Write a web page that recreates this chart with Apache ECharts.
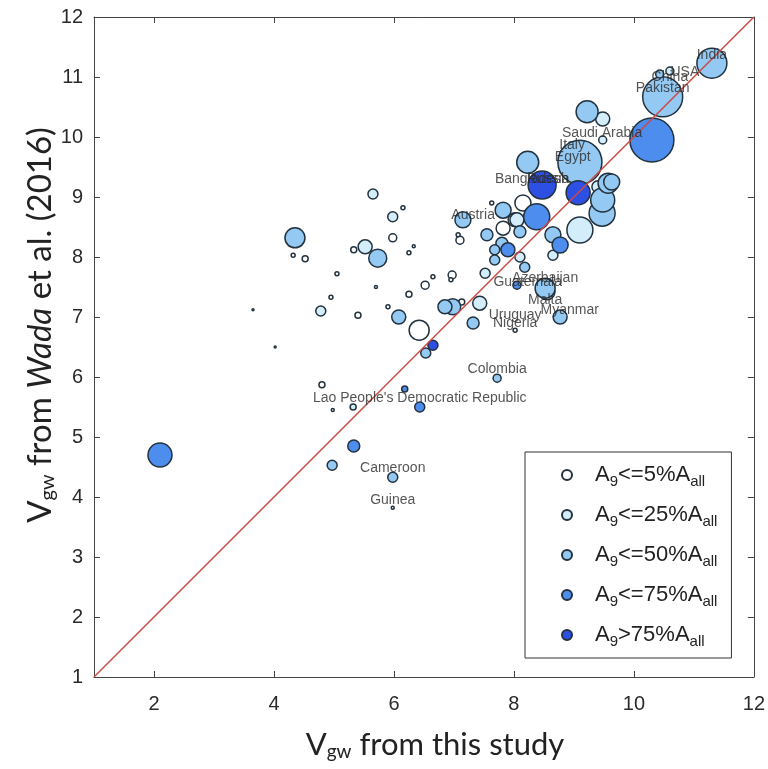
<!DOCTYPE html>
<html><head><meta charset="utf-8">
<script src="https://cdn.jsdelivr.net/npm/echarts@6/dist/echarts.min.js"></script>
<style>html,body{margin:0;padding:0;background:#fff}#c{width:768px;height:769px}</style>
</head><body><div id="c"></div>
<script>
// category 0: A9<=5%, 1: <=25%, 2: <=50%, 3: <=75%, 4: >75%
const categoryNames = ['A9<=5%Aall','A9<=25%Aall','A9<=50%Aall','A9<=75%Aall','A9>75%Aall'];
const categoryRich = ['A{s|9}<=5%A{s|all}','A{s|9}<=25%A{s|all}','A{s|9}<=50%A{s|all}','A{s|9}<=75%A{s|all}','A{s|9}>75%A{s|all}'];
const categoryColors = ['#ffffff','#d3edfb','#93c9f2','#4d8ded','#2d4fe3'];

const pointX = [11.30,10.43,10.60,10.48,10.30,9.22,9.48,9.48,8.97,9.10,8.98,9.22,8.23,8.47,9.07,9.57,9.48,9.47,7.15,8.15,8.38,7.82,8.02,9.10,9.63,9.40,8.65,8.77,8.65,8.05,7.82,8.10,7.55,7.10,7.80,7.90,7.68,8.10,7.68,8.18,7.52,6.97,6.65,6.52,8.05,8.52,8.55,8.77,7.32,6.98,6.85,7.43,8.02,6.42,5.65,5.98,6.15,4.35,4.32,4.52,5.98,5.52,5.33,5.73,6.33,6.25,5.05,5.70,4.95,6.25,5.90,4.78,5.40,6.08,6.65,6.53,7.13,6.95,7.07,4.02,3.65,4.80,4.98,5.32,6.18,6.43,7.72,5.33,4.97,5.98,5.98,2.10,7.63];
const pointY = [11.23,11.05,11.10,10.67,9.95,10.42,10.30,9.95,9.78,9.58,9.57,9.55,9.58,9.20,9.07,9.23,8.95,8.73,8.62,8.90,8.67,8.78,8.62,8.45,9.25,9.17,8.37,8.20,8.03,8.62,8.48,8.42,8.37,8.28,8.23,8.12,8.12,8.00,7.95,7.83,7.73,7.70,7.67,7.53,7.53,7.48,7.42,7.00,6.90,7.17,7.17,7.23,6.78,6.78,9.05,8.67,8.82,8.32,8.03,7.97,8.32,8.17,8.12,7.98,8.18,8.07,7.72,7.50,7.33,7.38,7.17,7.10,7.03,7.00,6.53,6.40,7.25,7.62,8.37,6.50,7.12,5.87,5.45,5.50,5.80,5.50,5.98,4.85,4.53,4.33,3.82,4.70,8.90];
const pointR = [15,4,4,20,22,11,7,4,3,22,5,5,11,14,12,10,12,13,8,8,13,8,7,13,8,6,8,8,5,7,7,6,6,4,6,7,5,5,5,5,5,4,2,4,4,10,8,7,6,8,7,7,2,10,5,5,2,10,2,3,4,7,3,9,1.5,2,2,1.5,2,3,2,5,3,7,5,5,3,2,2,1,1,3,1.5,3,3,5,4,6,5,5,1.5,12,2];
const pointCat = [2,2,1,2,3,2,1,1,1,2,0,0,2,4,4,2,2,2,2,0,3,2,0,1,2,1,2,3,1,1,0,2,2,0,2,3,2,1,2,2,1,0,0,0,3,2,0,2,2,2,2,1,0,0,1,1,0,2,0,0,0,1,0,2,0,0,0,0,0,0,0,1,0,2,4,2,0,0,0,0,0,0,0,1,3,3,2,3,2,2,0,3,0];

const labelNames = ['India','USA','China','Pakistan','Saudi Arabia','Italy','Egypt','Bangladesh','Russia','Austria','Azerbaijan','Guatemala','Malta','Myanmar','Uruguay','Nigeria','Colombia',"Lao People's Democratic Republic",'Cameroon','Guinea'];
const labelX = [11.30,10.85,10.60,10.48,9.47,8.97,8.98,8.30,8.57,7.32,8.52,8.23,8.52,8.93,8.02,8.02,7.72,6.43,5.98,5.98];
const labelY = [11.37,11.08,11.00,10.82,10.07,9.87,9.67,9.30,9.30,8.70,7.65,7.58,7.28,7.12,7.03,6.90,6.13,5.65,4.48,3.95];

const diagX = [1,12];
const diagY = [1,12];
const xTicks = [2,4,6,8,10,12];
const xTitle = 'V{s|gw} from this study';
const yTitle = 'V{s|gw} from {i|Wada} et al. (2016)';

const chart = echarts.init(document.getElementById('c'));
const font = '"Liberation Sans", Arial, sans-serif';
const tfont = 'Lato, "Open Sans", sans-serif';
const scatterSeries = categoryNames.map((nm, ci) => {
  const data = [];
  for (let i = 0; i < pointX.length; i++) if (pointCat[i] === ci) data.push([pointX[i], pointY[i], pointR[i]]);
  data.sort((a,b)=>b[2]-a[2]);
  return {
    name: nm, type: 'scatter', data: data,
    symbolSize: v => v[2]*2,
    itemStyle: {color: categoryColors[ci], borderColor: '#23323f', borderWidth: 1.5, opacity: 1},
    emphasis: {disabled: true}, z: 3
  };
});
const boxAxis = {type: 'value', min: 1, max: 12, interval: 1};
const lineC = {color: '#444', width: 1};
chart.setOption({
  animation: false,
  backgroundColor: '#fff',
  grid: {left: 94, right: 14, top: 17, bottom: 92, show: false},
  xAxis: [
    Object.assign({}, boxAxis, {position: 'bottom',
      axisLine: {show: true, onZero: false, lineStyle: lineC},
      axisTick: {show: true, inside: true, length: 6, customValues: xTicks, lineStyle: {color: '#444'}},
      axisLabel: {show: true, customValues: xTicks, fontSize: 20, color: '#2a2a2a', fontFamily: font, margin: 17},
      splitLine: {show: false}}),
    Object.assign({}, boxAxis, {position: 'top',
      axisLine: {show: true, onZero: false, lineStyle: lineC},
      axisTick: {show: true, inside: true, length: 6, customValues: xTicks, lineStyle: {color: '#444'}},
      axisLabel: {show: false}, splitLine: {show: false}})
  ],
  yAxis: [
    Object.assign({}, boxAxis, {position: 'left',
      axisLine: {show: true, onZero: false, lineStyle: lineC},
      axisTick: {show: true, inside: true, length: 6, lineStyle: {color: '#444'}},
      axisLabel: {show: true, fontSize: 20, color: '#2a2a2a', fontFamily: font, margin: 11, showMinLabel: true, showMaxLabel: true},
      splitLine: {show: false}}),
    Object.assign({}, boxAxis, {position: 'right',
      axisLine: {show: true, onZero: false, lineStyle: lineC},
      axisTick: {show: true, inside: true, length: 6, lineStyle: {color: '#444'}},
      axisLabel: {show: false}, splitLine: {show: false}})
  ],
  graphic: [
    {type: 'text', x: 435, y: 745, silent: true,
     style: {text: xTitle, fontSize: 31, fontFamily: tfont, fill: '#222', align: 'center', verticalAlign: 'middle',
       rich: {s: {fontSize: 19, fontFamily: tfont, fill: '#222', padding: [14,0,0,0]}}}},
    {type: 'text', x: 40, y: 325, rotation: Math.PI/2, silent: true,
     style: {text: yTitle, fontSize: 33, fontFamily: tfont, fill: '#222', align: 'center', verticalAlign: 'middle',
       rich: {s: {fontSize: 20, fontFamily: tfont, fill: '#222', padding: [15,0,0,0]},
              i: {fontSize: 33, fontStyle: 'italic', fontFamily: tfont, fill: '#222'}}}}
  ],
  legend: {
    orient: 'vertical', left: 525, top: 452,
    backgroundColor: '#fff', borderColor: '#333', borderWidth: 1,
    padding: [8, 14, 8, 36], itemGap: 10, itemWidth: 10, itemHeight: 10,
    icon: 'circle', data: categoryNames, selectedMode: false,
    formatter: name => categoryRich[categoryNames.indexOf(name)],
    textStyle: {fontSize: 22, fontFamily: font, color: '#222', lineHeight: 30, padding: [0,0,0,18],
      rich: {s: {fontSize: 15, fontFamily: font, color: '#222', padding: [14,0,0,0]}}}
  },
  series: [
    ...scatterSeries,
    {type: 'line', data: diagX.map((x,i)=>[x, diagY[i]]), symbol: 'none', silent: true,
     lineStyle: {color: '#cc4a42', width: 1.5}, z: 4},
    {type: 'scatter', data: labelNames.map((n,i)=>({name: n, value: [labelX[i], labelY[i]]})),
     symbolSize: 0, silent: true, z: 5,
     label: {show: true, position: 'inside', formatter: p => p.name, fontSize: 14, fontFamily: font, color: '#2b2b2b'}}
  ]
});
</script></body></html>
